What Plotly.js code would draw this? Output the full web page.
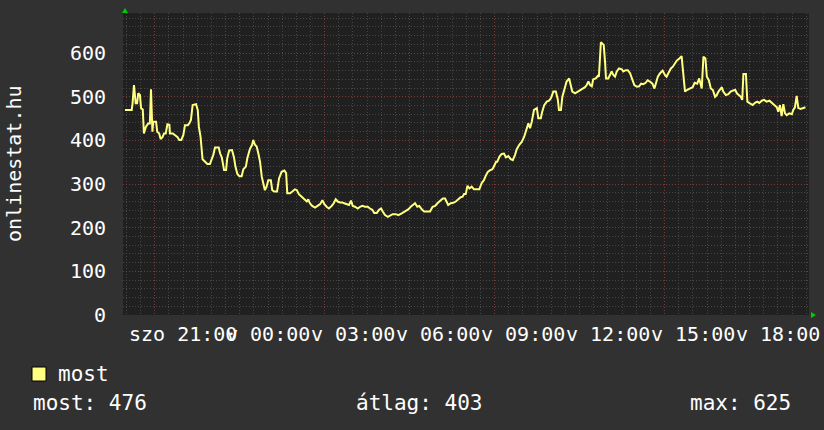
<!DOCTYPE html>
<html>
<head>
<meta charset="utf-8">
<script src="https://cdn.plot.ly/plotly-3.0.1.min.js"></script>
<style>
  html, body { margin: 0; padding: 0; background: #313131; }
  #chart { width: 824px; height: 430px; }
</style>
</head>
<body>
<div id="chart"></div>
<script>
// ---- data (hours relative to Sunday 00:00, negative = Saturday) ----
const hours = [-5.05,-4.81,-4.78,-4.73,-4.67,-4.62,-4.58,-4.52,-4.48,-4.42,-4.38,-4.31,-4.23,-4.17,-4.13,-4.08,-4.05,-3.95,-3.91,-3.84,-3.79,-3.72,-3.67,-3.61,-3.55,-3.48,-3.46,-3.36,-3.28,-3.20,-3.13,-3.06,-2.99,-2.93,-2.83,-2.78,-2.72,-2.66,-2.54,-2.48,-2.44,-2.38,-2.31,-2.22,-2.14,-2.05,-1.99,-1.93,-1.87,-1.74,-1.69,-1.63,-1.55,-1.48,-1.44,-1.37,-1.27,-1.20,-1.15,-1.08,-1.01,-0.93,-0.87,-0.78,-0.73,-0.64,-0.56,-0.52,-0.46,-0.40,-0.34,-0.28,-0.22,-0.17,-0.11,-0.05,0.01,0.10,0.15,0.22,0.32,0.39,0.48,0.58,0.64,0.68,0.78,0.86,0.95,1.02,1.09,1.19,1.28,1.37,1.42,1.48,1.56,1.66,1.75,1.84,1.92,1.99,2.07,2.15,2.25,2.32,2.39,2.46,2.54,2.62,2.69,2.78,2.86,2.93,2.99,3.07,3.17,3.25,3.33,3.42,3.52,3.60,3.68,3.75,3.84,3.92,3.99,4.05,4.13,4.23,4.31,4.40,4.52,4.60,4.72,4.84,4.95,5.07,5.19,5.27,5.34,5.43,5.51,5.60,5.72,5.81,5.90,5.98,6.07,6.17,6.25,6.31,6.36,6.45,6.54,6.63,6.72,6.80,6.87,6.92,6.98,7.04,7.11,7.19,7.27,7.46,7.54,7.62,7.70,7.76,7.84,7.90,7.95,8.05,8.09,8.17,8.25,8.33,8.40,8.48,8.57,8.64,8.72,8.78,8.87,8.96,9.04,9.13,9.19,9.25,9.31,9.39,9.49,9.54,9.63,9.68,9.75,9.84,9.92,9.99,10.07,10.16,10.23,10.27,10.34,10.39,10.46,10.54,10.63,10.69,10.74,10.84,10.93,11.01,11.09,11.19,11.25,11.31,11.37,11.43,11.48,11.57,11.64,11.68,11.75,11.85,11.90,11.93,12.01,12.07,12.13,12.19,12.25,12.31,12.39,12.49,12.54,12.63,12.70,12.78,12.84,12.93,13.02,13.10,13.17,13.25,13.33,13.40,13.48,13.57,13.64,13.70,13.76,13.84,13.93,14.01,14.07,14.13,14.22,14.29,14.37,14.43,14.52,14.60,14.64,14.68,14.72,14.80,14.90,14.99,15.06,15.15,15.22,15.31,15.37,15.44,15.49,15.56,15.63,15.70,15.78,15.84,15.90,15.96,16.02,16.07,16.16,16.25,16.33,16.40,16.49,16.55,16.62,16.69,16.74,16.78,16.87,16.92,17.01,17.11,17.19,17.27,17.34,17.43,17.51,17.60,17.70,17.78,17.86,17.96,18.01,18.07,18.13,18.19,18.25,18.31,18.40,18.49,18.54,18.60,18.66,18.72,18.80,18.90,18.97];

const mostValues = [470,470,485,527,485,485,508,504,474,471,416,431,439,439,517,420,443,443,420,416,403,408,416,416,437,436,416,416,412,408,401,401,412,435,435,439,447,481,483,470,431,408,357,351,346,346,355,367,384,384,370,361,332,332,359,377,378,361,340,323,318,318,334,340,359,380,390,401,390,386,370,351,317,302,286,294,309,309,286,283,283,313,328,331,325,279,279,283,288,286,277,271,265,260,265,256,250,246,250,254,263,254,248,244,250,256,265,260,258,258,256,254,252,262,250,248,244,248,250,248,248,244,241,234,234,241,244,237,229,225,227,231,231,229,233,237,242,250,256,248,250,242,237,237,237,248,250,256,262,267,267,260,252,256,257,260,265,270,271,277,277,296,290,294,288,288,302,309,321,328,332,333,337,351,351,363,369,370,361,364,357,355,367,380,390,397,408,428,439,428,443,470,474,451,451,466,481,489,491,497,512,512,494,470,470,500,519,535,542,523,512,508,512,516,518,522,527,535,527,524,540,542,548,546,625,619,577,542,542,550,558,550,546,558,565,563,558,561,561,554,542,527,523,524,530,529,532,538,535,530,519,531,546,554,560,550,546,554,565,569,577,583,588,593,565,538,512,516,519,522,532,530,542,519,592,588,546,538,519,516,500,504,512,516,522,512,504,506,512,514,516,508,504,500,493,552,552,489,485,481,486,489,486,491,493,489,491,486,483,476,466,481,456,483,462,458,462,460,470,476,502,474,472,474,476];

const tickHours  = [-3, 0, 3, 6, 9, 12, 15, 18];
const tickLabels = ["szo 21:00","v 00:00","v 03:00","v 06:00","v 09:00","v 12:00","v 15:00","v 18:00"];

const seriesName = "most";
const axisTitle  = "onlinestat.hu";
const statLabels = ["most", "átlag", "max"];
const statValues = [476, 403, 625];

// ---- style / geometry ----
const FONT = "DejaVu Sans Mono";
const PAPER = "#313131", PLOT = "#202020", TEXT = "#ffffff";
const LINE = "#ffff80", MINOR = "#474747", MAJOR = "#7c3a3a", ARROW = "#00cc00";
const DOTS = '1px,2px';
const ML = 123, MR = 15, MT = 13, MB = 115, WIDTH = 824, HEIGHT = 430;
const PW = WIDTH - ML - MR, PH = HEIGHT - MT - MB;
const xRange = [-5.118, 19.096];
const yRange = [0, 692];
const px = x => (x - ML) / PW;            // pixel -> paper x
const py = y => (HEIGHT - MB - y) / PH;   // pixel -> paper y

const shapes = [];
// legend swatch
shapes.push({type:'rect', xref:'paper', yref:'paper', x0:px(32), x1:px(46), y0:py(381), y1:py(367),
  fillcolor:LINE, line:{color:'#000000', width:1}});
// green axis arrows
shapes.push({type:'path', xref:'paper', yref:'paper',
  path:`M ${px(122)},${py(13)} L ${px(128)},${py(13)} L ${px(125)},${py(8)} Z`,
  fillcolor:ARROW, line:{width:0}});
shapes.push({type:'path', xref:'paper', yref:'paper',
  path:`M ${px(811)},${py(312)} L ${px(811)},${py(318)} L ${px(816)},${py(315)} Z`,
  fillcolor:ARROW, line:{width:0}});

const f  = {family: FONT, size: 20, color: TEXT};
const f2 = {family: FONT, size: 21, color: TEXT};
const annotations = [
  {text: axisTitle, xref:'paper', yref:'paper', x:px(14), y:0.5, textangle:-90,
   showarrow:false, xanchor:'center', yanchor:'middle', font:f},
  {text: seriesName, xref:'paper', yref:'paper', x:px(56), y:py(374),
   showarrow:false, xanchor:'left', yanchor:'middle', font:f2},
  {text: statLabels[0] + ": " + statValues[0], xref:'paper', yref:'paper', x:px(31), y:py(403),
   showarrow:false, xanchor:'left', yanchor:'middle', font:f2},
  {text: statLabels[1] + ": " + statValues[1], xref:'paper', yref:'paper', x:px(419), y:py(403),
   showarrow:false, xanchor:'center', yanchor:'middle', font:f2},
  {text: statLabels[2] + ": " + statValues[2], xref:'paper', yref:'paper', x:px(793), y:py(403),
   showarrow:false, xanchor:'right', yanchor:'middle', font:f2}
];
// time-axis labels (centred on their hour)
tickHours.forEach((h, i) => annotations.push({
  text: tickLabels[i], xref:'x', yref:'paper', x:h, y:py(334),
  showarrow:false, xanchor:'center', yanchor:'middle', font:f
}));

const trace = {
  x: hours, y: mostValues, type:'scatter', mode:'lines', name: seriesName,
  line: {color: LINE, width: 2}, hoverinfo:'skip'
};

const layout = {
  width: WIDTH, height: HEIGHT,
  margin: {l: ML, r: MR, t: MT, b: MB, pad: 0},
  paper_bgcolor: PAPER, plot_bgcolor: PLOT,
  showlegend: false,
  font: f,
  xaxis: {
    range: xRange, tickmode:'linear', tick0:-4, dtick:3,
    showticklabels:false, ticks:'',
    showgrid: true, gridcolor: MAJOR, griddash: DOTS, gridwidth:1,
    zeroline:false, showline:false, fixedrange:true,
    minor: {tickmode:'linear', tick0:0, dtick:0.5, showgrid:true, gridcolor:MINOR,
            griddash: DOTS, gridwidth:1, ticks:''}
  },
  yaxis: {
    range: yRange, tickmode:'linear', tick0:0, dtick:100,
    ticks:'outside', ticklen: 12, tickcolor: PAPER,
    showgrid:true, gridcolor: MAJOR, griddash: DOTS, gridwidth:1,
    zeroline:false, showline:false, tickfont: f, fixedrange:true,
    minor: {tickmode:'linear', tick0:0, dtick:20, showgrid:true, gridcolor:MINOR,
            griddash: DOTS, gridwidth:1, ticks:''}
  },
  shapes: shapes,
  annotations: annotations,
  hovermode: false
};

Plotly.newPlot('chart', [trace], layout, {displayModeBar:false, staticPlot:true});
</script>
</body>
</html>
